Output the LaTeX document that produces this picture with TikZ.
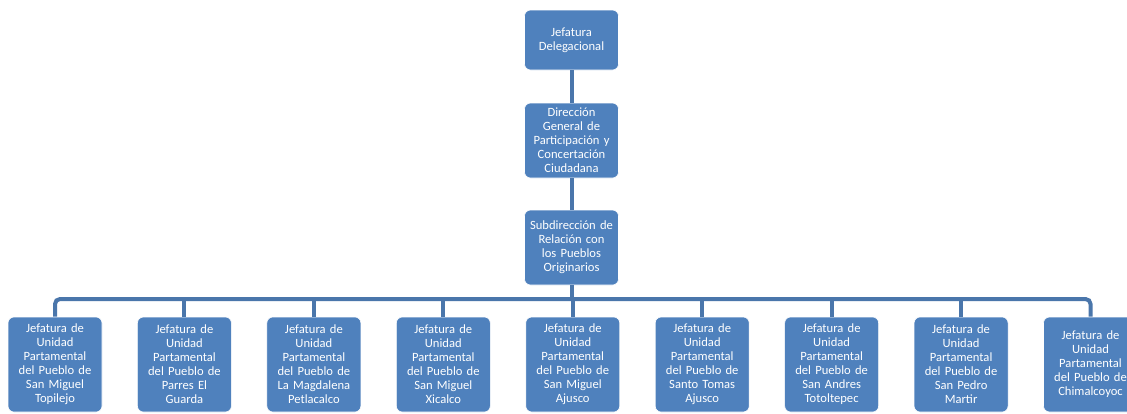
\documentclass[tikz,border=0pt]{standalone}
\usepackage{fontspec}
\setmainfont{Carlito}
\usepackage{tikz}
\definecolor{boxblue}{HTML}{4F81BD}
\definecolor{lineblue}{HTML}{4A76AB}
\tikzset{
  orgbox/.style={draw=white, line width=0.6pt, fill=boxblue, rounded corners=6pt,
    text=white, minimum width=94pt, text width=92pt, align=center, inner sep=0pt,
    font=\fontsize{12.6}{14}\selectfont},
  orgline/.style={draw=lineblue, line width=4pt}
}

\begin{document}
\begin{tikzpicture}[x=1pt,y=-1pt]
	\clip (0,0) rectangle (1127,413);
	\fill[white] (0,0) rectangle (1127,413);

	\node[orgbox, minimum height=60pt] (jefatura) at (571.5,40) {Jefatura\\Delegacional};
	\node[orgbox, minimum height=75pt] (direccion) at (571.5,140.5) {Direcci\'on\\General de\\Participaci\'on y\\Concertaci\'on\\Ciudadana};
	\node[orgbox, minimum height=75pt] (subdireccion) at (571.5,247.5) {Subdirecci\'on de\\Relaci\'on con\\los Pueblos\\Originarios};
	\coordinate (bus) at (571.5,299);

	% pueblos
	\foreach \t [count=\j from 0] in {{San Miguel\\Topilejo},{Parres El\\Guarda},{La Magdalena\\Petlacalco},{San Miguel\\Xicalco},{San Miguel\\Ajusco},{Santo Tomas\\Ajusco},{San Andres\\Totoltepec},{San Pedro\\Martir},{Chimalcoyoc}}
	{
		\def\x{55+129.44*\j}
		\node[orgbox, minimum height=95pt] (pueblo\j) at ({\x},364.5) {Jefatura de\\Unidad\\Partamental\\del Pueblo de\\\t};
	}

	\draw[orgline] (jefatura) -- (direccion);
	\draw[orgline] (direccion) -- (subdireccion);
	\draw[orgline] (subdireccion) -- (bus);
	\draw[orgline, rounded corners=5pt] (pueblo0.north) |- (bus) -| (pueblo8.north);
	\foreach \j in {1,...,7}
		\draw[orgline] (pueblo\j.north) -- (pueblo\j.north |- bus);
\end{tikzpicture}
\end{document}
